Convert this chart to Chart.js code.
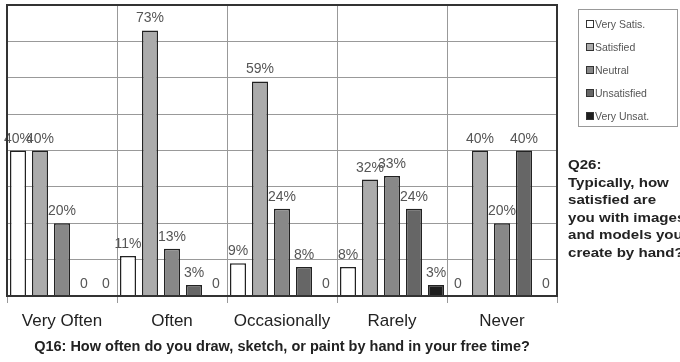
<!DOCTYPE html>
<html>
<head>
<meta charset="utf-8">
<script src="https://cdn.jsdelivr.net/npm/chart.js@4"></script>
<style>
  body { margin: 0; background: #fff; }
  #wrap { position: relative; width: 680px; height: 362px; overflow: hidden; }
  #legend {
    position: absolute; left: 578px; top: 9px; width: 100px; height: 118px;
    border: 1px solid #999; box-sizing: border-box;
    font: 10.5px Arial, "Liberation Sans", sans-serif; color: #555;
  }
  #legend div { position: absolute; left: 7px; white-space: nowrap; }
  #legend span {
    display: inline-block; width: 6px; height: 6px; border: 1px solid #333;
    margin-right: 1px; vertical-align: 0px;
  }
  #side {
    position: absolute; left: 568px; top: 156px; white-space: nowrap;
    font: bold 13px Arial, "Liberation Sans", sans-serif; line-height: 17.6px; color: #222;
    transform: scaleX(1.16); transform-origin: left top;
  }
</style>
</head>
<body>
<div id="wrap">
  <canvas id="myChart" width="680" height="362"></canvas>
  <div id="legend"></div>
  <div id="side">Q26:<br>Typically, how<br>satisfied are<br>you with images<br>and models you<br>create by hand?</div>
</div>
<script>
var categories = ["Very Often", "Often", "Occasionally", "Rarely", "Never"];
var seriesNames = ["Very Satis.", "Satisfied", "Neutral", "Unsatisfied", "Very Unsat."];
var verySatis = [40, 11, 9, 8, 0];
var satisfied = [40, 73, 59, 32, 40];
var neutral = [20, 13, 24, 33, 20];
var unsatisfied = [0, 3, 8, 24, 40];
var veryUnsat = [0, 0, 0, 3, 0];
var colors = ["#ffffff", "#ababab", "#888888", "#666666", "#1e1e1e"];

var allSeries = [verySatis, satisfied, neutral, unsatisfied, veryUnsat];

// legend on the right
var legend = document.getElementById("legend");
seriesNames.forEach(function (name, i) {
  var d = document.createElement("div");
  d.style.top = (8 + i * 23) + "px";
  d.innerHTML = '<span style="background:' + colors[i] + '"></span>' + name;
  legend.appendChild(d);
});

var labelPlugin = {
  id: "labels",
  afterDatasetsDraw: function (chart) {
    var ctx = chart.ctx;
    ctx.save();
    ctx.font = "14px Arial, 'Liberation Sans', sans-serif";
    ctx.fillStyle = "#555";
    ctx.textAlign = "center";
    ctx.textBaseline = "alphabetic";
    chart.data.datasets.forEach(function (ds, i) {
      chart.getDatasetMeta(i).data.forEach(function (bar, j) {
        var v = ds.data[j];
        var txt = v === 0 ? "0" : v + "%";
        ctx.fillText(txt, bar.x, bar.y - 8);
      });
    });
    ctx.restore();
  },
  afterDraw: function (chart) {
    var a = chart.chartArea;
    var ctx = chart.ctx;
    ctx.save();
    ctx.strokeStyle = "#333";
    ctx.lineWidth = 2;
    ctx.strokeRect(a.left, a.top, a.right - a.left, a.bottom - a.top);
    ctx.restore();
  }
};

var ctx = document.getElementById("myChart");

new Chart(ctx, {
  type: "bar",
  data: {
    labels: categories,
    datasets: allSeries.map(function (vals, i) {
      return {
        label: seriesNames[i],
        data: vals,
        backgroundColor: colors[i],
        borderColor: "#222",
        borderWidth: 1.5,
        barPercentage: 0.73,
        categoryPercentage: 1.0,
      };
    }),
  },
  options: {
    responsive: false,
    animation: false,
    layout: { padding: { left: 7, right: 123, top: 5, bottom: 0 } },
    plugins: {
      legend: { display: false },
      tooltip: { enabled: false },
    },
    scales: {
      x: {
        grid: { color: "#999", tickLength: 7, offset: true },
        border: { display: false },
        ticks: {
          color: "#222",
          padding: 8,
          font: { family: "Arial, 'Liberation Sans', sans-serif", size: 17 },
        },
        title: {
          display: true,
          text: "Q16: How often do you draw, sketch, or paint by hand in your free time?",
          color: "#222",
          padding: { top: 0, bottom: 6 },
          font: { family: "Arial, 'Liberation Sans', sans-serif", size: 14.5, weight: "bold" },
        },
        afterFit: function (scale) { scale.height = 66; },
      },
      y: {
        min: 0,
        max: 80,
        ticks: { display: false, stepSize: 10 },
        grid: { color: "#999", drawTicks: false },
        border: { display: false },
        afterFit: function (scale) { scale.width = 0; },
      },
    },
  },
  plugins: [labelPlugin],
});
</script>
</body>
</html>
